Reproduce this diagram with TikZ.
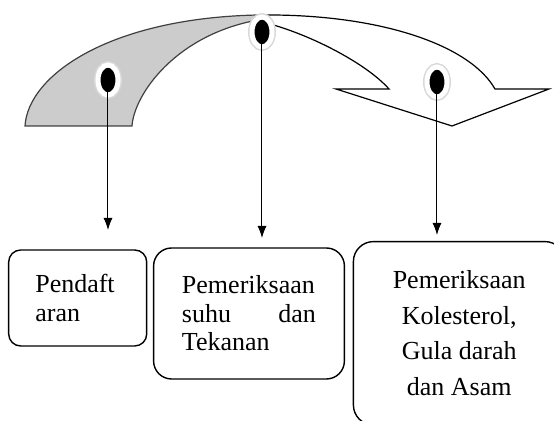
\documentclass[tikz,border=0pt]{standalone}
\usepackage{fontspec}
\setmainfont{Liberation Serif}
\usetikzlibrary{arrows.meta, positioning, shapes.geometric}

\begin{document}
\begin{tikzpicture}[x=0.5pt, y=-0.5pt,
  dot/.style={ellipse, fill=black, draw=white, line width=2.5pt, inner sep=0pt,
    minimum width=10pt, minimum height=15pt, preaction={draw=black!15, line width=4pt}},
  box/.style={draw=black, line width=0.7pt, inner sep=0pt, font=\fontsize{13}{14.5}\selectfont},
  flow/.style={-{Latex[length=6pt, width=4.5pt]}, line width=0.5pt, shorten <=-3pt}]
  \useasboundingbox (0,0) rectangle (554,421);
  \clip (0,0) rectangle (554,421);

  % gray band and white arrow
  \draw[fill=gray!40, draw=black!75, line width=0.6pt] (25,126) -- (132,126)
    .. controls (134,95) and (175,35) .. (258,20) -- (258,15)
    .. controls (110,18) and (28,75) .. (25,126) -- cycle;
  \draw[fill=white, draw=black, line width=0.6pt] (262,15)
    .. controls (380,14) and (470,45) .. (495,89) -- (549,89) -- (452,126)
    -- (336,89) -- (389,89) .. controls (365,62) and (305,32) .. (262,22) -- cycle;

  \node[dot] (dotL) at (108,80) {};
  \node[dot] (dotM) at (262,32) {};
  \node[dot] (dotR) at (437,82) {};

  \coordinate (endL) at (108,230);
  \coordinate (endM) at (262,238);
  \coordinate (endR) at (437,235);

  \draw[flow] (dotL.south) -- (endL);
  \draw[flow] (dotM.south) -- (endM);
  \draw[flow] (dotR.south) -- (endR);

  \node[box, rounded corners=6pt, minimum width=69pt, minimum height=48pt,
    text width=42.4pt, align=left] (reg) at (77.7,298) {Pendaft\\aran};
  \node[box, rounded corners=9pt, minimum width=95.4pt, minimum height=65.5pt,
    text width=67pt, align=left, font=\fontsize{13}{14.2}\selectfont]
    (temp) at (249,313.5) {Pemeriksaan\\suhu \hfill dan\\Tekanan};
  \node[box, rounded corners=10pt, minimum width=105.8pt, minimum height=91.7pt,
    align=center, font=\fontsize{13}{17.8}\selectfont]
    (lab) at (459.2,333.3) {Pemeriksaan\\Kolesterol,\\Gula darah\\dan Asam};
\end{tikzpicture}
\end{document}
